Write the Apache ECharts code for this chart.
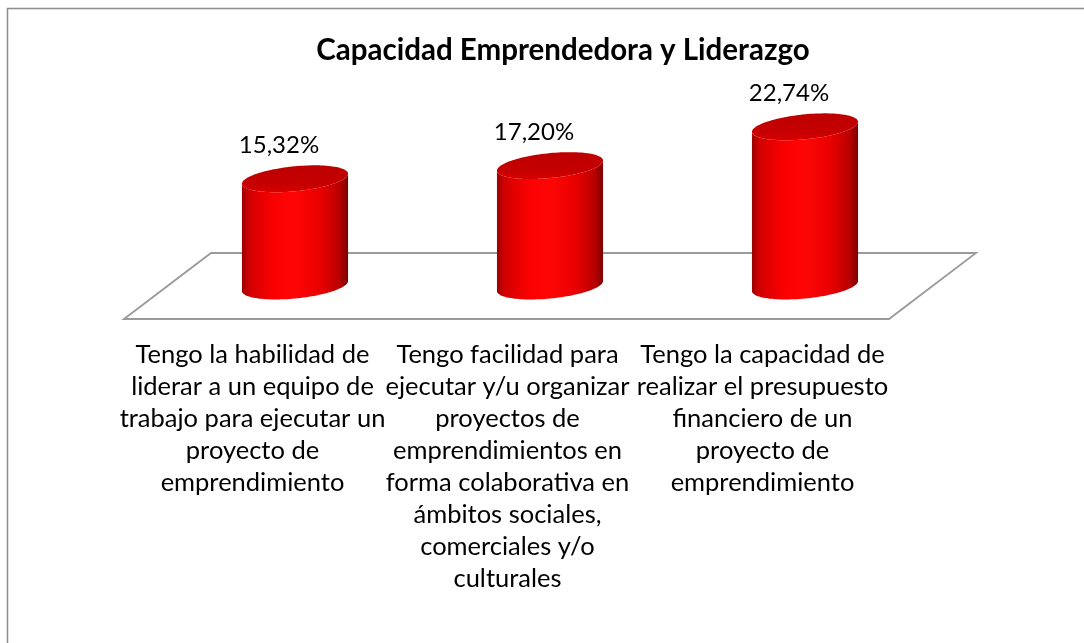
<!DOCTYPE html>
<html>
<head>
<meta charset="utf-8">
<script src="https://cdn.jsdelivr.net/npm/echarts@6/dist/echarts.min.js"></script>
<style>
html,body{margin:0;padding:0;background:#fff;}
#chart{width:1084px;height:643px;}
</style>
</head>
<body>
<div id="chart"></div>
<script>
const titleText = 'Capacidad Emprendedora y Liderazgo';
const categories = [
  'Tengo la habilidad de\nliderar a un equipo de\ntrabajo para ejecutar un\nproyecto de\nemprendimiento',
  'Tengo facilidad para\nejecutar y/u organizar\nproyectos de\nemprendimientos en\nforma colaborativa en\námbitos sociales,\ncomerciales y/o\nculturales',
  'Tengo la capacidad de\nrealizar el presupuesto\nfinanciero de un\nproyecto de\nemprendimiento'
];
const values = [15.32, 17.20, 22.74];

const FONT = 'Lato, "Noto Sans", sans-serif';
const DEPTH = [43.5, -33];   // half depth of the 3D floor
const ELL_B = 12.5, ELL_S = 5; // ellipse half-height & tilt

function fmt(v){ return v.toFixed(2).replace('.', ',') + '%'; }

function ellPt(cx, cy, a, t){
  return [cx + a*Math.cos(t), cy + ELL_B*Math.sin(t) - ELL_S*Math.cos(t)];
}

const chart = echarts.init(document.getElementById('chart'), null, {renderer:'canvas'});

const option = {
  backgroundColor: '#fff',
  animation: false,
  title: {
    text: titleText,
    left: 558, top: 30, textAlign: 'center',
    textStyle: {fontFamily: FONT, fontWeight: 'bold', fontSize: 29.5, color: '#000'}
  },
  graphic: [{
    type: 'rect', silent: true, z: -10,
    shape: {x: 7.5, y: 8.5, width: 1300, height: 1000},
    style: {fill: 'none', stroke: '#8c8c8c', lineWidth: 1.5}
  }],
  grid: [
    {left: 167.5, right: 151.5, top: 111, bottom: 357},
    {left: 125, right: 194, top: 300, bottom: 323}
  ],
  xAxis: [
    {type: 'category', gridIndex: 0, data: categories, show: false},
    {type: 'category', gridIndex: 1, data: categories,
     axisLine: {show: false}, axisTick: {show: false},
     axisLabel: {interval: 0, margin: 19, fontFamily: FONT, fontSize: 25.5, lineHeight: 32, color: '#000', align: 'center'}}
  ],
  yAxis: [
    {type: 'value', gridIndex: 0, min: 0, max: 25, show: false},
    {type: 'value', gridIndex: 1, show: false}
  ],
  series: [
    {
      type: 'custom', xAxisIndex: 0, yAxisIndex: 0, z: 1,
      data: [[0, 0]],
      renderItem: function(params, api){
        const cs = params.coordSys;
        const y0 = api.coord([0, 0])[1];
        const l = cs.x, r = cs.x + cs.width;
        const pts = [
          [l - DEPTH[0], y0 - DEPTH[1]],
          [l + DEPTH[0], y0 + DEPTH[1]],
          [r + DEPTH[0], y0 + DEPTH[1]],
          [r - DEPTH[0], y0 - DEPTH[1]]
        ];
        return {type: 'polygon', shape: {points: pts},
          style: {fill: '#fff', stroke: '#9a9a9a', lineWidth: 1.8}};
      }
    },
    {
      type: 'custom', xAxisIndex: 0, yAxisIndex: 0, z: 2,
      data: values.map((v, i) => [i, v]),
      renderItem: function(params, api){
        const i = api.value(0), v = api.value(1);
        const base = api.coord([i, 0]);
        const top = api.coord([i, v]);
        const cx = top[0], yb = base[1], yt = top[1];
        const a = api.size([1, 0])[0] * 0.208;
        const N = 60;
        const body = [];
        body.push([cx - a, yt + ELL_S]);
        for (let k = 0; k <= N; k++){ body.push(ellPt(cx, yb, a, Math.PI - Math.PI*k/N)); }
        body.push([cx + a, yt - ELL_S]);
        for (let k = 0; k <= N; k++){ body.push(ellPt(cx, yt, a, Math.PI*k/N)); }
        const cap = [];
        for (let k = 0; k < 2*N; k++){ cap.push(ellPt(cx, yt, a, Math.PI*k/N)); }
        const ext = Math.sqrt(ELL_B*ELL_B + ELL_S*ELL_S);
        return {
          type: 'group',
          children: [
            {type: 'polygon', shape: {points: body},
              style: {fill: new echarts.graphic.LinearGradient(0, 0, 1, 0, [
                {offset: 0, color: '#9c0000'},
                {offset: 0.07, color: '#d20000'},
                {offset: 0.3, color: '#fb0000'},
                {offset: 0.5, color: '#ff0606'},
                {offset: 0.75, color: '#e80000'},
                {offset: 0.92, color: '#b80000'},
                {offset: 1, color: '#7c0000'}
              ])}},
            {type: 'polygon', shape: {points: cap},
              style: {fill: new echarts.graphic.LinearGradient(0, 0, 0, 1, [
                {offset: 0, color: '#bd0000'},
                {offset: 0.7, color: '#c60000'},
                {offset: 1, color: '#d80000'}
              ])}},
            {type: 'text', style: {
              text: fmt(v), x: cx - 16, y: yt - ext - 20,
              align: 'center', verticalAlign: 'middle',
              fontFamily: FONT, fontSize: 24, fill: '#000'}}
          ]
        };
      }
    },
    {
      type: 'bar', xAxisIndex: 1, yAxisIndex: 1, data: [], silent: true
    }
  ]
};
chart.setOption(option);
</script>
</body>
</html>
